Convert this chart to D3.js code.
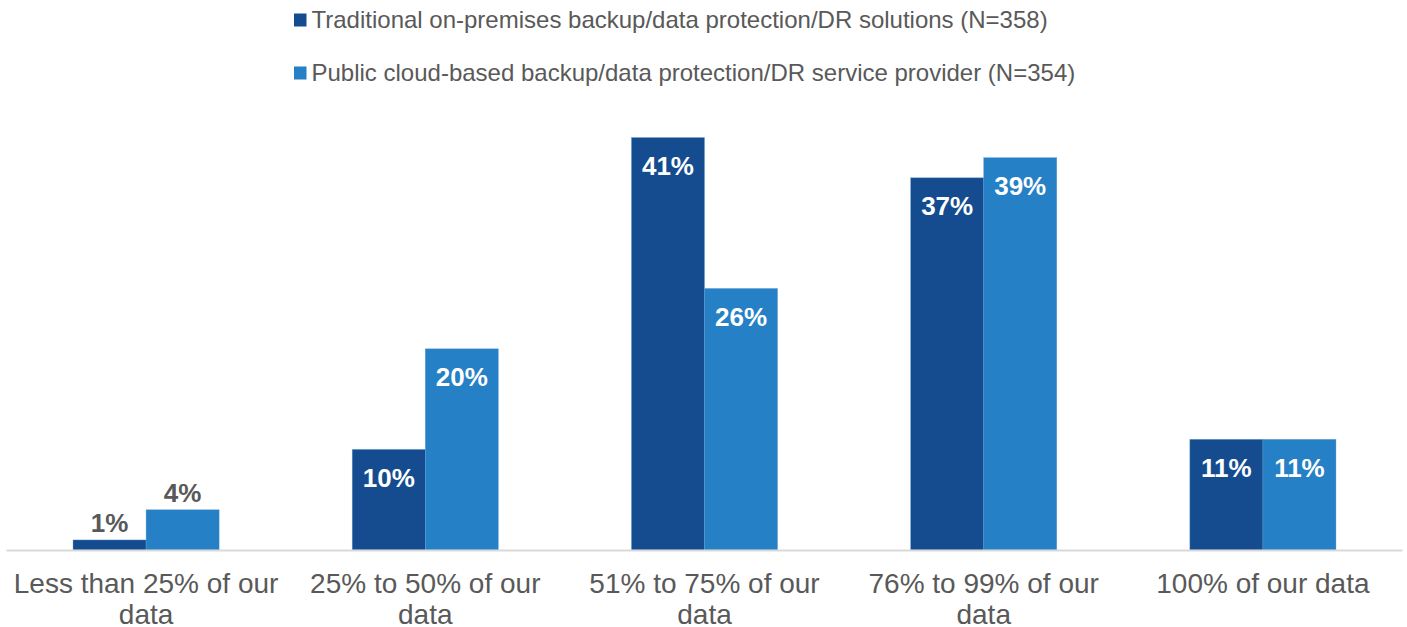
<!DOCTYPE html>
<html><head><meta charset="utf-8">
<script src="https://cdn.jsdelivr.net/npm/d3@7"></script>
<style>body{margin:0;background:#fff}svg{display:block;font-family:"Liberation Sans",Arial,sans-serif}</style>
</head><body><svg id="c" width="1407" height="627"></svg>
<script>
const categories = ["Less than 25% of our data","25% to 50% of our data","51% to 75% of our data","76% to 99% of our data","100% of our data"];
const seriesNames = ["Traditional on-premises backup/data protection/DR solutions (N=358)","Public cloud-based backup/data protection/DR service provider (N=354)"];
const traditional = [1,10,41,37,11];
const cloud = [4,20,26,39,11];
const colors = ["#144c8f","#2580c6"];

const svg = d3.select("#c");
const x = d3.scaleBand().domain(categories).range([6.5,1402.5]).paddingInner(0.4767).paddingOuter(0.2383);
const x1 = d3.scaleBand().domain([0,1]).range([0,x.bandwidth()]);
const y = d3.scaleLinear().domain([0,45]).range([550,550-45*10.06]);

const data = categories.map((c,i)=>[traditional[i],cloud[i]]);
const g = svg.append("g");
categories.forEach((c,i)=>{
  [0,1].forEach(s=>{
    const v = data[i][s];
    const bx = x(c)+x1(s), bw = x1.bandwidth(), top = y(v);
    g.append("rect").attr("x",bx).attr("y",top).attr("width",bw).attr("height",y(0)-top)
      .attr("fill",colors[s]).attr("stroke","#5b9bd5").attr("stroke-width",0.6).attr("stroke-opacity",0.6);
    const inside = (y(0)-top) > 60;
    g.append("text").attr("x",bx+bw/2).attr("y", inside ? top+37.5 : top-7.5)
      .attr("text-anchor","middle").attr("font-size",26).attr("font-weight","bold")
      .attr("fill", inside ? "#ffffff" : "#595959").text(v+"%");
  });
});
// axis
const ax = svg.append("g").attr("transform","translate(0,550)").call(d3.axisBottom(x).tickSize(0).tickFormat(""));
ax.select(".domain").attr("stroke","#d9d9d9").attr("stroke-width",2).attr("d","M6.5,0.5H1402.5");
// wrapped labels
const maxW = x.step()*0.98;
categories.forEach(c=>{
  const t = svg.append("text").attr("x",x(c)+x.bandwidth()/2).attr("y",592.5).attr("text-anchor","middle")
    .attr("font-size",28).attr("fill","#595959");
  const words = c.split(" ");
  let line=[];
  let ts = t.append("tspan").attr("x",x(c)+x.bandwidth()/2).attr("dy",0);
  words.forEach(w=>{
    line.push(w); ts.text(line.join(" "));
    if (ts.node().getComputedTextLength()>maxW && line.length>1){
      line.pop(); ts.text(line.join(" ")); line=[w];
      ts = t.append("tspan").attr("x",x(c)+x.bandwidth()/2).attr("dy",31).text(w);
    }
  });
});
// legend
const leg = svg.append("g");
seriesNames.forEach((n,i)=>{
  const ly = 28 + i*53;
  leg.append("rect").attr("x",294).attr("y",ly-14.5).attr("width",12.5).attr("height",13).attr("fill",colors[i]);
  leg.append("text").attr("x",311.5).attr("y",ly).attr("font-size",24).attr("fill","#595959").text(n);
});
</script></body></html>
